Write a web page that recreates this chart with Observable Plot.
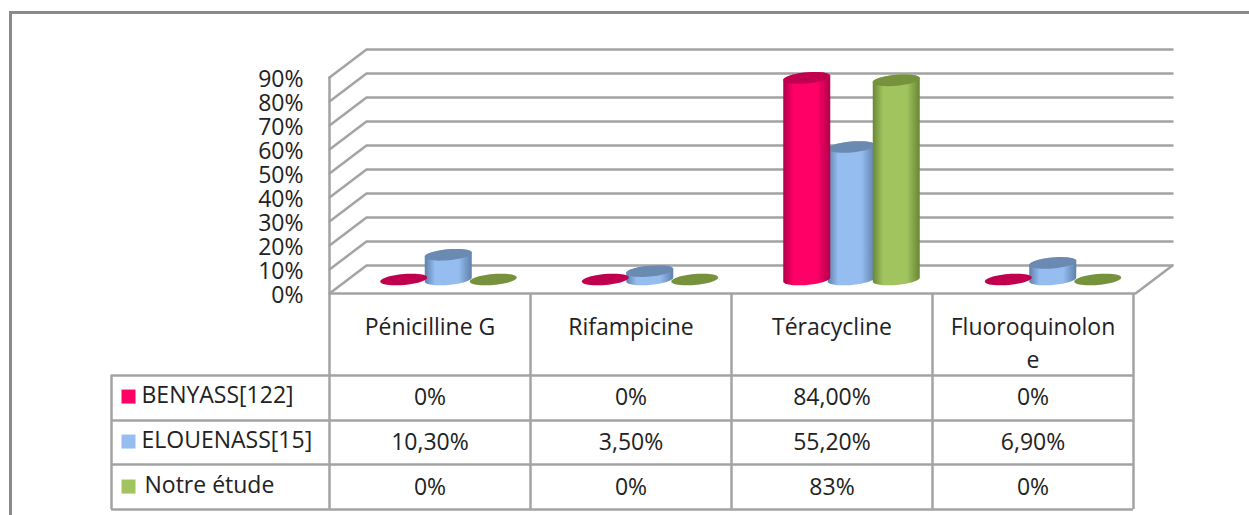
<!DOCTYPE html>
<html><head><meta charset="utf-8">
<script src="https://cdn.jsdelivr.net/npm/d3@7"></script>
<script src="https://cdn.jsdelivr.net/npm/@observablehq/plot@0.6"></script>
<style>
html,body{margin:0;padding:0;background:#fff;width:1249px;height:515px;overflow:hidden}
#frame{position:absolute;left:9px;top:11px;width:1300px;height:560px;border:3px solid #8a8a8a;box-sizing:border-box}
#chart,#table{position:absolute;left:0}
#chart{top:0}#table{top:293px}
svg{background:none!important}
</style></head><body>
<div id="frame"></div><div id="chart"></div><div id="table"></div>
<script>
const categories = ["Pénicilline G","Rifampicine","Téracycline","Fluoroquinolone"];
const headerLabels = ["Pénicilline G","Rifampicine","Téracycline","Fluoroquinolon\ne"];
const seriesNames = ["BENYASS[122]","ELOUENASS[15]","Notre étude"];
const benyass = [0,0,84,0];
const elouenass = [10.3,3.5,55.2,6.9];
const notreEtude = [0,0,83,0];
const cellBenyass = ["0%","0%","84,00%","0%"];
const cellElouenass = ["10,30%","3,50%","55,20%","6,90%"];
const cellNotre = ["0%","0%","83%","0%"];
const yTicks = [0,10,20,30,40,50,60,70,80,90];
const seriesColors = ["#ff0066","#95bdf0","#a1c45f"];
const topColors = ["#c0004e","#6a8ab2","#76923c"];
const edgeColors = ["#b0004a","#5f80aa","#6a8636"];

const W=1249, font='"Open Sans","Noto Sans",sans-serif', grid="#a3a3a3", ink="#222";
const unitX=201.5, unitY=2.4;            // px per category, px per percent (layout only)
const depthX=37/unitX, depthY=28/unitY;  // 3D depth expressed in data units
const offs=[-45/unitX,-0.5/unitX,44.5/unitX];
const a=23.5/unitX, b=5.5/unitY, s=2/unitY;
const values=[benyass,elouenass,notreEtude];

const cx=(c,k)=>c+0.5+depthX/2+offs[k];
const ell=(c,k,v,t)=>[cx(c,k)+a*Math.cos(t), v+depthY/2+b*Math.sin(t)+s*Math.cos(t)];
const range=(t0,t1,n=36)=>d3.range(n+1).map(i=>t0+(t1-t0)*i/n);
const bodies=[],tops=[];
values.forEach((vals,k)=>vals.forEach((v,c)=>{
  const id=`${k}-${c}`;
  if(v>0){
    const pts=[...range(Math.PI,0).map(t=>ell(c,k,v,t)),...range(0,-Math.PI).map(t=>ell(c,k,0,t))];
    pts.forEach(p=>bodies.push({id,k,x:p[0],y:p[1]}));
  }
  range(0,2*Math.PI,48).forEach(t=>{const p=ell(c,k,v,t);tops.push({id,k,x:p[0],y:p[1]});});
}));
const gridPaths=yTicks.flatMap(v=>[
  {v,x:0,y:v},{v,x:depthX,y:v+depthY},{v,x:4+depthX,y:v+depthY}]);
const floorPath=[{x:0,y:90},{x:0,y:0},{x:4,y:0},{x:4+depthX,y:depthY}];

const defs=()=>{
  const ns="http://www.w3.org/2000/svg";
  const d=document.createElementNS(ns,"defs");
  seriesColors.forEach((col,k)=>{
    const g=document.createElementNS(ns,"linearGradient");
    g.setAttribute("id","cyl"+k);
    [[0,edgeColors[k]],[.22,col],[.5,col],[.72,col],[1,edgeColors[k]]].forEach(([o,c])=>{
      const st=document.createElementNS(ns,"stop");
      st.setAttribute("offset",o);st.setAttribute("stop-color",c);g.appendChild(st);
    });
    d.appendChild(g);
  });
  return d;
};
const cyl=k=>[
  Plot.line(bodies.filter(d=>d.k===k),{x:"x",y:"y",z:"id",fill:`url(#cyl${k})`,stroke:"none"}),
  Plot.line(tops.filter(d=>d.k===k),{x:"x",y:"y",z:"id",fill:topColors[k],stroke:"none"})
];
const chart=Plot.plot({
  width:W,height:320,marginLeft:329,marginRight:77,marginTop:49,marginBottom:27,
  x:{domain:[0,4+depthX],axis:null},
  y:{domain:[0,90+depthY],axis:null},
  style:{fontFamily:font,background:"none"},
  marks:[
    defs,
    Plot.line(gridPaths,{x:"x",y:"y",z:"v",stroke:grid,strokeWidth:2.5}),
    Plot.line(floorPath,{x:"x",y:"y",stroke:grid,strokeWidth:2.5}),
    Plot.axisY({ticks:yTicks,tickSize:0,tickPadding:26,tickFormat:d=>d+"%",fontSize:23,label:null,color:ink,dy:2}),
    cyl(1),cyl(0),cyl(2)
  ]
});
document.getElementById("chart").append(chart);

const rowCells=[cellBenyass,cellElouenass,cellNotre];
const cells=rowCells.flatMap((r,i)=>r.map((t,c)=>({t,c,i})));
const edges=[-0.5,0.5,1.48,2.48];
const hTop=-2.32;
const tableUnit=201;
const labelColX=-218/tableUnit;
const vx=[0,1,2,3,4];
const table=Plot.plot({
  width:W,height:222,marginLeft:111,marginRight:116,marginTop:0,marginBottom:6,
  x:{domain:[labelColX,4],axis:null},
  y:{domain:[hTop,2.48],reverse:true,axis:null},
  style:{fontFamily:font,background:"none"},
  marks:[
    Plot.ruleY(edges,{x1:labelColX,x2:4,y:d=>d,stroke:grid,strokeWidth:2.5}),
    Plot.ruleX(vx,{x:d=>d,y1:hTop,y2:2.48,stroke:grid,strokeWidth:2.5}),
    Plot.ruleX([labelColX],{x:d=>d,y1:-0.5,y2:2.48,stroke:grid,strokeWidth:2.5}),
    Plot.dot(seriesNames,{x:()=>labelColX+17/tableUnit,y:(d,i)=>i-0.03,symbol:"square",r:7.9,fill:(d,i)=>seriesColors[i],stroke:"none"}),
    Plot.text(seriesNames,{x:(d,i)=>labelColX+(i===2?33:30)/tableUnit,y:(d,i)=>i-0.05,text:d=>d,textAnchor:"start",fontSize:23,fill:ink}),
    Plot.text(cells,{x:d=>d.c+0.5,y:"i",text:"t",fontSize:23,fill:ink}),
    Plot.text(headerLabels,{x:(d,i)=>i+0.5,y:()=>-1.907,text:d=>d,lineAnchor:"top",lineHeight:1.43,fontSize:23,fill:ink})
  ]
});
document.getElementById("table").append(table);
</script></body></html>
